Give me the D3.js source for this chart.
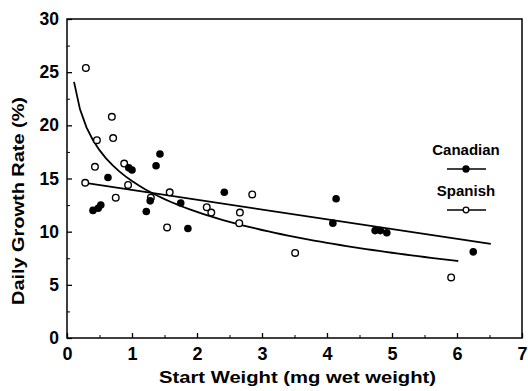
<!DOCTYPE html>
<html>
<head>
<meta charset="utf-8">
<script src="https://cdn.jsdelivr.net/npm/d3@7"></script>
<style>
  body { margin: 0; background: #fff; }
  text { font-family: "Liberation Sans", Arial, sans-serif; font-weight: bold; fill: #000; }
</style>
</head>
<body>
<svg id="chart" width="528" height="391"></svg>
<script>
// data
var canadianX = [0.40, 0.48, 0.52, 0.63, 0.95, 1.00, 1.22, 1.28, 1.37, 1.43, 1.75, 1.86, 2.42, 4.14, 4.09, 4.74, 4.82, 4.92, 6.25];
var canadianY = [12.0, 12.2, 12.5, 15.1, 16.0, 15.8, 11.9, 12.9, 16.2, 17.3, 12.7, 10.3, 13.7, 13.1, 10.8, 10.1, 10.1, 9.9, 8.1];
var spanishX = [0.29, 0.46, 0.43, 0.69, 0.71, 0.28, 0.88, 0.94, 0.75, 1.29, 1.58, 1.54, 2.15, 2.22, 2.66, 2.65, 2.85, 3.51, 5.91];
var spanishY = [25.4, 18.6, 16.1, 20.8, 18.8, 14.6, 16.4, 14.4, 13.2, 13.2, 13.7, 10.4, 12.3, 11.8, 11.8, 10.8, 13.5, 8.0, 5.7];

// fitted lines: Canadian linear (a + b*x), Spanish logarithmic (a + b*ln x)
var canadianFit = [14.84, -0.92];
var canadianFitRange = [0.28, 6.52];
var spanishFit = [14.76, -4.19];
var spanishFitRange = [0.108, 6.02];

var xTicks = [0, 1, 2, 3, 4, 5, 6, 7];
var yTicks = [0, 5, 10, 15, 20, 25, 30];
var seriesNames = ["Canadian", "Spanish"];

var svg = d3.select("#chart");
var plotLeft = 67, plotRight = 522, plotTop = 19, plotBottom = 338;

var x = d3.scaleLinear().domain([0, 7]).range([plotLeft, plotRight]);
var y = d3.scaleLinear().domain([0, 30]).range([plotBottom, plotTop]);

// frame
svg.append("rect")
  .attr("x", plotLeft).attr("y", plotTop)
  .attr("width", plotRight - plotLeft).attr("height", plotBottom - plotTop)
  .attr("fill", "none").attr("stroke", "#000").attr("stroke-width", 1.5);

// major ticks
var xAxis = svg.append("g")
  .attr("transform", "translate(0," + plotBottom + ")")
  .call(d3.axisBottom(x).tickValues(xTicks).tickFormat(d3.format("d"))
    .tickSizeInner(-5).tickSizeOuter(0).tickPadding(9));
xAxis.select(".domain").remove();
xAxis.selectAll("text").attr("font-size", 18).attr("font-family", null);
xAxis.selectAll("line").attr("stroke-width", 1.3);

var yAxis = svg.append("g")
  .attr("transform", "translate(" + plotLeft + ",0)")
  .call(d3.axisLeft(y).tickValues(yTicks).tickFormat(d3.format("d"))
    .tickSizeInner(-5).tickSizeOuter(0).tickPadding(8));
yAxis.select(".domain").remove();
yAxis.selectAll("text").attr("font-size", 17.5).attr("font-family", null);
yAxis.selectAll("line").attr("stroke-width", 1.3);

// minor ticks
var xMinor = svg.append("g")
  .attr("transform", "translate(0," + plotBottom + ")")
  .call(d3.axisBottom(x).tickValues(d3.range(0.5, 7, 1)).tickSizeInner(-3).tickSizeOuter(0).tickFormat(""));
xMinor.select(".domain").remove();

var yMinor = svg.append("g")
  .attr("transform", "translate(" + plotLeft + ",0)")
  .call(d3.axisLeft(y).tickValues(d3.range(2.5, 30, 5)).tickSizeInner(-3).tickSizeOuter(0).tickFormat(""));
yMinor.select(".domain").remove();

// axis titles
svg.append("text")
  .attr("x", (plotLeft + plotRight) / 2 + 3).attr("y", 383)
  .attr("text-anchor", "middle").attr("font-size", 17)
  .attr("textLength", 277).attr("lengthAdjust", "spacingAndGlyphs")
  .text("Start Weight (mg wet weight)");

svg.append("text")
  .attr("transform", "translate(24," + 201 + ") rotate(-90)")
  .attr("text-anchor", "middle").attr("font-size", 17)
  .attr("textLength", 208).attr("lengthAdjust", "spacingAndGlyphs")
  .text("Daily Growth Rate (%)");

// fit lines
var line = d3.line().x(d => x(d[0])).y(d => y(d[1]));

svg.append("path")
  .datum(canadianFitRange.map(v => [v, canadianFit[0] + canadianFit[1] * v]))
  .attr("fill", "none").attr("stroke", "#000").attr("stroke-width", 1.8)
  .attr("d", line);

var logX = d3.scaleLog().domain(spanishFitRange).ticks(60);
logX = [spanishFitRange[0]].concat(logX.filter(v => v > spanishFitRange[0] && v < spanishFitRange[1]), [spanishFitRange[1]]);
svg.append("path")
  .datum(logX.map(v => [v, spanishFit[0] + spanishFit[1] * Math.log(v)]))
  .attr("fill", "none").attr("stroke", "#000").attr("stroke-width", 1.8)
  .attr("d", line);

// points
svg.append("g").selectAll("circle")
  .data(d3.zip(spanishX, spanishY))
  .enter().append("circle")
  .attr("cx", d => x(d[0])).attr("cy", d => y(d[1])).attr("r", 3.3)
  .attr("fill", "#fff").attr("stroke", "#000").attr("stroke-width", 1.4);

svg.append("g").selectAll("circle")
  .data(d3.zip(canadianX, canadianY))
  .enter().append("circle")
  .attr("cx", d => x(d[0])).attr("cy", d => y(d[1])).attr("r", 3.8)
  .attr("fill", "#000");

// legend
var legend = svg.append("g");
seriesNames.forEach(function (name, i) {
  var ty = 155 + i * 41;
  legend.append("text")
    .attr("x", 466).attr("y", ty)
    .attr("text-anchor", "middle").attr("font-size", 15)
    .text(name);
  legend.append("line")
    .attr("x1", 447).attr("x2", 486)
    .attr("y1", ty + 14).attr("y2", ty + 14)
    .attr("stroke", "#000").attr("stroke-width", 1.3);
  legend.append("circle")
    .attr("cx", 466).attr("cy", ty + 14).attr("r", i == 0 ? 3 : 2.8)
    .attr("fill", i == 0 ? "#000" : "#fff")
    .attr("stroke", "#000").attr("stroke-width", 1.3);
});
</script>
</body>
</html>
